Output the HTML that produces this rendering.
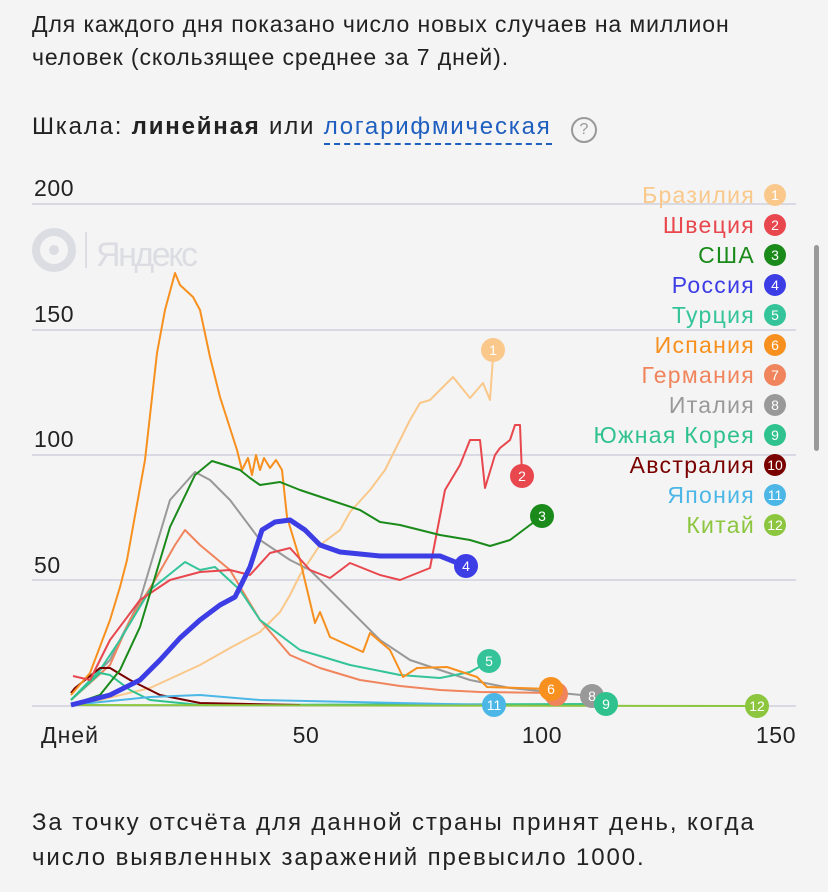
<!DOCTYPE html>
<html><head><meta charset="utf-8"><style>
html,body{margin:0;padding:0;background:#f4f4f4;}
body{width:828px;height:892px;overflow:hidden;position:relative;font-family:"Liberation Sans","DejaVu Sans",sans-serif;color:#222;}
.t{position:absolute;left:32px;font-size:23px;letter-spacing:0.9px;line-height:33px;white-space:nowrap;}
</style></head><body>
<div class="t" style="top:8px">Для каждого дня показано число новых случаев на миллион<br>человек (скользящее среднее за 7 дней).</div>
<div class="t" style="top:110px;font-size:24px;letter-spacing:1.8px">Шкала: <b>линейная</b> или <span style="color:#1f5fbf;border-bottom:2px dashed #1f5fbf;padding-bottom:3px">логарифмическая</span></div>
<div style="position:absolute;left:571px;top:117px;width:22px;height:22px;border:2px solid #999;border-radius:50%;color:#999;font-size:16px;text-align:center;line-height:22px">?</div>
<div style="position:absolute;left:814px;top:245px;width:5px;height:206px;background:#999;border-radius:3px"></div>
<svg width="828" height="892" style="position:absolute;left:0;top:0" xmlns="http://www.w3.org/2000/svg">
<g stroke="#cfd0dc" stroke-width="1.5"><line x1="32" x2="796" y1="204" y2="204"/><line x1="32" x2="796" y1="330" y2="330"/><line x1="32" x2="796" y1="455" y2="455"/><line x1="32" x2="796" y1="580" y2="580"/><line x1="32" x2="796" y1="706" y2="706"/></g>
<g font-family="Liberation Sans,sans-serif" font-size="23" fill="#222" letter-spacing="0.6"><text x="34" y="196">200</text><text x="34" y="322">150</text><text x="34" y="447">100</text><text x="34" y="573">50</text>
<text x="41" y="743" letter-spacing="1">Дней</text><text x="306" y="743" text-anchor="middle">50</text><text x="542" y="743" text-anchor="middle">100</text><text x="776" y="743" text-anchor="middle">150</text></g>
<circle cx="54" cy="250" r="18" fill="none" stroke="#dcdde3" stroke-width="8"/><circle cx="54" cy="250" r="5" fill="#dcdde3"/><line x1="86" y1="232" x2="86" y2="268" stroke="#dcdde3" stroke-width="2"/>
<text x="96" y="266" font-size="34" fill="#dcdde3" font-family="Liberation Sans Narrow,Liberation Sans,sans-serif" textLength="102">Яндекс</text>
<g fill="none" stroke-linejoin="round" stroke-width="2">
<polyline stroke="#f9c88a" points="71,705 100,700 150,688 200,665 230,648 260,632 280,612 290,595 300,575 320,545 340,530 350,512 370,490 385,470 400,440 410,420 420,403 430,400 440,390 453,377 470,398 483,383 490,400 493,357"/>
<polyline stroke="#999" points="71,700 110,660 140,600 170,500 195,472 210,480 230,500 260,540 290,560 310,570 320,580 350,610 380,640 410,660 440,670 470,680 510,688 560,693 592,696"/>
<polyline stroke="#f0845c" points="71,700 110,665 130,620 155,580 175,545 185,530 200,545 230,570 260,620 290,655 320,668 360,680 400,686 440,690 480,692 556,693"/>
<polyline stroke="#35c49a" points="71,700 100,670 120,640 150,590 185,562 200,570 215,567 240,590 260,620 300,650 350,665 400,675 440,678 470,672 490,661"/>
<polyline stroke="#30c28e" points="71,700 100,673 110,675 130,690 150,700 200,705 606,704"/>
<polyline stroke="#7a0000" points="71,693 75,688 100,668 110,668 130,680 160,695 200,703 300,705"/>
<polyline stroke="#4cb7e6" points="71,705 150,697 200,695 260,700 494,705"/>
<polyline stroke="#8cc63f" points="71,705 757,706"/>
<polyline stroke="#f7901e" points="71,695 90,673 110,620 120,587 127,560 145,460 157,353 165,310 175,273 180,285 193,297 200,310 210,357 220,397 237,450 242,470 248,458 252,475 256,455 260,470 264,458 270,468 276,460 282,470 287,517 300,560 315,623 320,612 330,637 363,652 370,633 390,650 403,677 417,668 447,667 477,677 487,687 551,689"/>
<polyline stroke="#e8474e" points="73,676 90,680 110,640 140,600 170,580 200,572 230,570 250,575 270,553 290,548 310,570 330,578 350,563 380,575 400,580 430,568 445,490 460,465 470,440 480,440 485,488 495,455 500,448 510,440 515,425 520,425 522,475"/>
<polyline stroke="#1a8a1a" points="71,705 100,695 120,670 140,627 170,527 195,475 212,461 225,465 240,470 250,478 260,485 280,482 300,490 330,500 360,510 380,522 400,525 440,535 470,540 490,546 510,540 530,525 542,516"/>
<polyline stroke="#3d3de6" stroke-width="5" points="71,705 110,695 140,680 160,660 180,638 200,620 220,605 235,597 250,567 262,530 275,522 290,520 305,530 320,545 340,552 380,556 440,556 465,566"/>
</g>
<g font-family="Liberation Sans,sans-serif" font-size="14" fill="#fff" text-anchor="middle">
<circle cx="493" cy="350" r="12" fill="#f9c88a"/><text x="493" y="355">1</text>
<circle cx="522" cy="476" r="12" fill="#e8474e"/><text x="522" y="481">2</text>
<circle cx="542" cy="516" r="12" fill="#1a8a1a"/><text x="542" y="521">3</text>
<circle cx="466" cy="566" r="12" fill="#3d3de6"/><text x="466" y="571">4</text>
<circle cx="489" cy="661" r="12" fill="#35c49a"/><text x="489" y="666">5</text>
<circle cx="556" cy="694" r="12" fill="#f0845c"/>
<circle cx="551" cy="689" r="12" fill="#f7901e"/><text x="551" y="694">6</text>
<circle cx="592" cy="696" r="12" fill="#999"/><text x="592" y="701">8</text>
<circle cx="606" cy="704" r="12" fill="#30c28e"/><text x="606" y="709">9</text>
<circle cx="494" cy="705" r="12" fill="#4cb7e6"/><text x="494" y="710">11</text>
<circle cx="757" cy="706" r="12" fill="#8cc63f"/><text x="757" y="711">12</text>
</g>
<g font-family="Liberation Sans,sans-serif" font-size="23" letter-spacing="1.3" text-anchor="end">
<text x="755" y="203" fill="#f9c88a">Бразилия</text>
<text x="755" y="233" fill="#e8474e">Швеция</text>
<text x="755" y="263" fill="#1a8a1a">США</text>
<text x="755" y="293" fill="#3d3de6">Россия</text>
<text x="755" y="323" fill="#35c49a">Турция</text>
<text x="755" y="353" fill="#f7901e">Испания</text>
<text x="755" y="383" fill="#f0845c">Германия</text>
<text x="755" y="413" fill="#999">Италия</text>
<text x="755" y="443" fill="#30c28e">Южная Корея</text>
<text x="755" y="473" fill="#7a0000">Австралия</text>
<text x="755" y="503" fill="#4cb7e6">Япония</text>
<text x="755" y="533" fill="#8cc63f">Китай</text>
</g>
<g font-family="Liberation Sans,sans-serif" font-size="14" fill="#fff" text-anchor="middle">
<circle cx="775" cy="195" r="11" fill="#f9c88a"/><text x="775" y="200">1</text>
<circle cx="775" cy="225" r="11" fill="#e8474e"/><text x="775" y="230">2</text>
<circle cx="775" cy="255" r="11" fill="#1a8a1a"/><text x="775" y="260">3</text>
<circle cx="775" cy="285" r="11" fill="#3d3de6"/><text x="775" y="290">4</text>
<circle cx="775" cy="315" r="11" fill="#35c49a"/><text x="775" y="320">5</text>
<circle cx="775" cy="345" r="11" fill="#f7901e"/><text x="775" y="350">6</text>
<circle cx="775" cy="375" r="11" fill="#f0845c"/><text x="775" y="380">7</text>
<circle cx="775" cy="405" r="11" fill="#999"/><text x="775" y="410">8</text>
<circle cx="775" cy="435" r="11" fill="#30c28e"/><text x="775" y="440">9</text>
<circle cx="775" cy="465" r="11" fill="#7a0000"/><text x="775" y="470">10</text>
<circle cx="775" cy="495" r="11" fill="#4cb7e6"/><text x="775" y="500">11</text>
<circle cx="775" cy="525" r="11" fill="#8cc63f"/><text x="775" y="530">12</text>
</g>
</svg>
<div class="t" style="top:805px;font-size:24px;letter-spacing:1.9px;line-height:35px">За точку отсчёта для данной страны принят день, когда<br>число выявленных заражений превысило 1000.</div>
</body></html>
